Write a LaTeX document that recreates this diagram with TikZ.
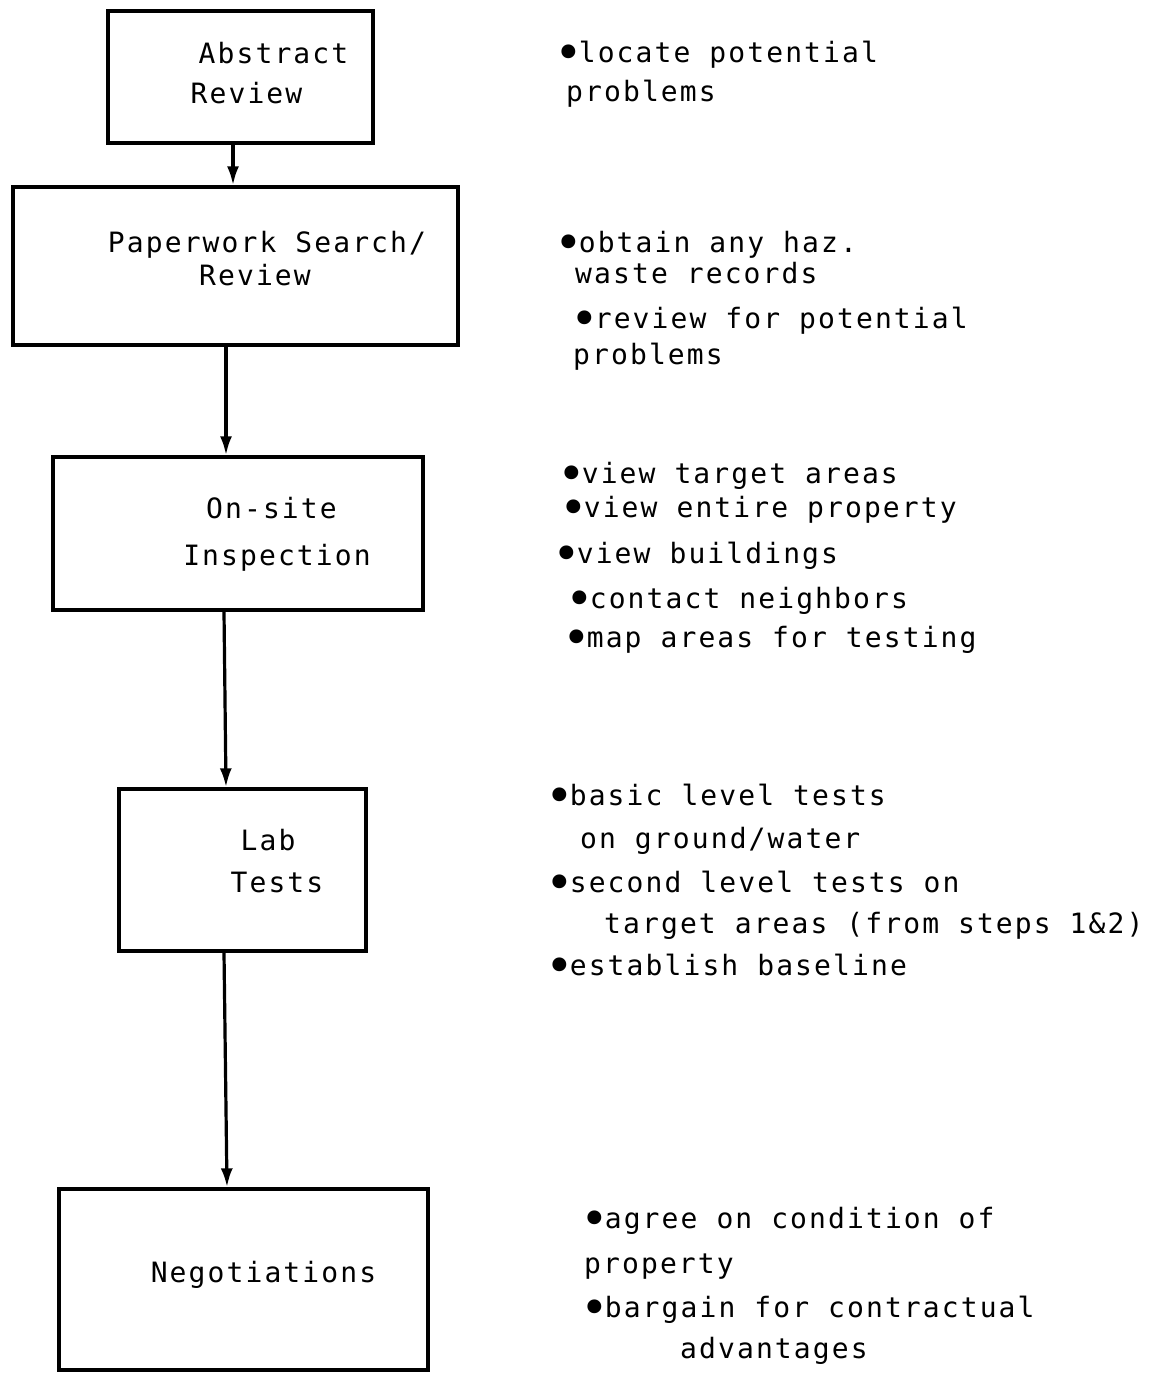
\documentclass[tikz,border=0pt]{standalone}
\usepackage{fontspec}
\usepackage{graphicx}
\newfontfamily\plotfont{DejaVu Sans Mono}[LetterSpace=7.5]
\newcommand\bul{\kern-7pt\raisebox{-7pt}{\scalebox{1.7}{•}}\kern-4pt}
\usetikzlibrary{arrows.meta}
\begin{document}
\begin{tikzpicture}[x=1pt,y=-1pt,
  box/.style={draw, line width=3.4pt, inner sep=0pt},
  txt/.style={anchor=base, inner sep=0pt, font=\plotfont\fontsize{28}{30}\selectfont},
  note/.style={txt, anchor=base west},
  arr/.style={line width=3.2pt, -{Latex[length=19pt,width=12pt]}}]
\useasboundingbox (0,0) rectangle (1164,1387);
% boxes
\node[box, minimum width=265pt, minimum height=132pt] (b1) at (240.5,77) {};
\node[box, minimum width=445pt, minimum height=158pt] (b2) at (235.5,266) {};
\node[box, minimum width=370pt, minimum height=153pt] (b3) at (238,533.5) {};
\node[box, minimum width=247pt, minimum height=162pt] (b4) at (242.5,870) {};
\node[box, minimum width=369pt, minimum height=181pt] (b5) at (243.5,1279.5) {};
% box texts
\node[txt] (t1a) at (273.5,63) {Abstract};
\node[txt] (t1b) at (246.5,103) {Review};
\node[txt] (t2a) at (267,252) {Paperwork Search/};
\node[txt] (t2b) at (255,285) {Review};
\node[txt] (t3a) at (271.5,518) {On-site};
\node[txt] (t3b) at (277,565) {Inspection};
\node[txt] (t4a) at (268,850) {Lab};
\node[txt] (t4b) at (277,892) {Tests};
\node[txt] (t5) at (263.5,1282) {Negotiations};
% arrows
\draw[arr] ([xshift=-7.5pt]b1.south) -- ([xshift=-2.5pt]b2.north);
\draw[arr] ([xshift=-9.5pt]b2.south) -- ([xshift=-12pt]b3.north);
\draw[arr] ([xshift=-14pt]b3.south) -- ([xshift=-16.5pt]b4.north);
\draw[arr] ([xshift=-18.5pt]b4.south) -- ([xshift=-16.5pt]b5.north);
% notes
\node[note] (n1a) at (561,62) {\bul locate potential};
\node[note] (n1b) at (566,101) {problems};
\node[note] (n2a) at (561,252) {\bul obtain any haz.};
\node[note] (n2b) at (575,283) {waste records};
\node[note] (n2c) at (577,328) {\bul review for potential};
\node[note] (n2d) at (573,364) {problems};
\node[note] (n3a) at (564,483) {\bul view target areas};
\node[note] (n3b) at (566,517) {\bul view entire property};
\node[note] (n3c) at (559,563) {\bul view buildings};
\node[note] (n3d) at (572,608) {\bul contact neighbors};
\node[note] (n3e) at (569,647) {\bul map areas for testing};
\node[note] (n4a) at (552,805) {\bul basic level tests};
\node[note] (n4b) at (580,848) {on ground/water};
\node[note] (n4c) at (552,892) {\bul second level tests on};
\node[note] (n4d) at (604,933) {target areas (from steps 1\&2)};
\node[note] (n4e) at (552,975) {\bul establish baseline};
\node[note] (n5a) at (587,1228) {\bul agree on condition of};
\node[note] (n5b) at (584,1273) {property};
\node[note] (n5c) at (587,1317) {\bul bargain for contractual};
\node[note] (n5d) at (680,1358) {advantages};
\end{tikzpicture}
\end{document}
